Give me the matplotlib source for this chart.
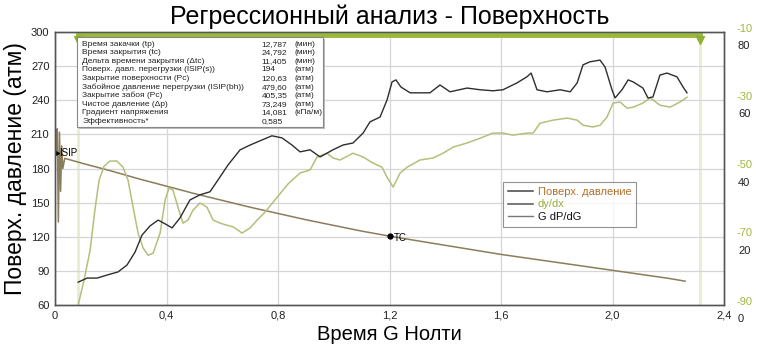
import matplotlib.pyplot as plt
import matplotlib.transforms as mtransforms
from matplotlib.ticker import FuncFormatter
from matplotlib.patches import Rectangle

plt.rcParams['font.family'] = ['Liberation Sans', 'DejaVu Sans']
plt.rcParams['axes.unicode_minus'] = False

# surface pressure (atm) vs G-time
g_press = [0.0, 0.005, 0.008, 0.012, 0.016, 0.020, 0.024, 0.028, 0.035, 0.1, 0.2, 0.3, 0.4, 0.5,
           0.6, 0.7, 0.8, 0.9, 1.0, 1.1, 1.2, 1.3, 1.4, 1.5, 1.6, 1.7, 1.8, 1.9, 2.0, 2.1, 2.2, 2.26]
p_surf = [195, 193.6, 215, 133, 212, 160, 200, 180, 189, 184.5, 178, 171, 164.5, 158,
          152, 146, 140.5, 135, 130, 125, 120.6, 116.5, 112.5, 108.5, 104.5, 101, 97.5, 94, 90.5, 87, 83.5, 81]

# G dP/dG (black right axis)
g_gdp = [0.083, 0.115, 0.151, 0.187, 0.226, 0.258, 0.287, 0.312, 0.341, 0.370, 0.395, 0.420, 0.448,
         0.484, 0.520, 0.556, 0.585, 0.621, 0.664, 0.700, 0.743, 0.778, 0.814, 0.850, 0.879, 0.915,
         0.951, 0.997, 1.033, 1.069, 1.105, 1.130, 1.166, 1.191, 1.209, 1.223, 1.241, 1.274, 1.309,
         1.345, 1.381, 1.417, 1.478, 1.525, 1.571, 1.607, 1.657, 1.693, 1.708, 1.729, 1.765, 1.812,
         1.848, 1.873, 1.894, 1.919, 1.955, 1.973, 1.998, 2.009, 2.034, 2.056, 2.074, 2.109, 2.127,
         2.145, 2.170, 2.195, 2.231, 2.253, 2.267]
gdp = [6.7, 7.9, 7.9, 8.8, 9.7, 11.7, 15.5, 20.5, 23.2, 24.9, 23.8, 22.6, 25.5,
       30.8, 32.3, 33.2, 36.7, 41.1, 45.5, 46.9, 48.4, 49.6, 49.0, 46.9, 44.9, 45.5,
       43.4, 45.5, 46.9, 47.5, 50.4, 53.7, 55.1, 60.1, 65.4, 66.0, 63.9, 62.2, 62.2,
       62.2, 64.5, 62.5, 63.6, 63.1, 62.8, 63.1, 65.1, 66.9, 68.0, 63.1, 62.5, 63.1,
       62.5, 65.1, 70.4, 71.3, 71.8, 69.8, 63.1, 60.7, 63.1, 66.0, 65.4, 63.6, 60.7,
       61.0, 67.4, 68.0, 66.9, 63.9, 62.2]

# dy/dx (green right axis)
g_dydx = [0.083, 0.104, 0.126, 0.143, 0.158, 0.176, 0.197, 0.222, 0.244, 0.262, 0.280, 0.298, 0.316,
          0.334, 0.352, 0.377, 0.395, 0.409, 0.423, 0.441, 0.459, 0.477, 0.495, 0.520, 0.545, 0.567,
          0.592, 0.617, 0.639, 0.671, 0.700, 0.725, 0.753, 0.789, 0.836, 0.879, 0.915, 0.940, 0.976,
          0.997, 1.022, 1.069, 1.105, 1.141, 1.173, 1.191, 1.213, 1.238, 1.263, 1.309, 1.356, 1.392,
          1.428, 1.478, 1.525, 1.571, 1.607, 1.643, 1.693, 1.715, 1.740, 1.787, 1.837, 1.873, 1.894,
          1.930, 1.955, 1.980, 2.002, 2.027, 2.052, 2.074, 2.109, 2.135, 2.170, 2.206, 2.242, 2.267]
dydx = [-90, -82.7, -73.9, -62.2, -53.4, -49.3, -47.8, -47.8, -49.6, -53.4, -61.3, -68.9, -73.3,
        -75.4, -74.8, -68.9, -59.2, -55.7, -56.3, -61.3, -66.0, -65.1, -62.2, -60.1, -61.3, -65.1,
        -66.0, -66.6, -67.1, -68.9, -67.4, -65.1, -62.8, -59.2, -54.5, -51.3, -50.4, -46.6, -45.5,
        -46.9, -47.5, -45.5, -46.6, -48.4, -49.6, -52.5, -55.4, -51.3, -49.6, -47.5, -46.9, -45.5,
        -43.7, -42.5, -41.1, -39.6, -39.6, -40.2, -39.6, -39.6, -36.7, -35.8, -35.2, -35.8, -37.3,
        -37.8, -37.3, -34.9, -30.8, -30.5, -32.3, -32.0, -30.8, -29.3, -31.4, -32.0, -30.5, -29.1]

isip_g, isip_p = 0.005, 193.6
tc_g, tc_p = 1.2, 120.63
window_g = [0.083, 2.314]

info_names = ['Время закачки (tp)', 'Время закрытия (tc)', 'Дельта времени закрытия (Δtc)',
              'Поверх. давл. перегрузки (ISIP(s))', 'Закрытие поверхности (Pc)',
              'Забойное давление перегрузки (ISIP(bh))', 'Закрытие забоя (Pc)',
              'Чистое давление (Δp)', 'Градиент напряжения', 'Эффективность*']
info_values = ['12,787', '24,792', '11,405', '194', '120,63', '479,60', '405,35', '73,249', '14,081', '0,585']
info_units = ['(мин)', '(мин)', '(мин)', '(атм)', '(атм)', '(атм)', '(атм)', '(атм)', '(кПа/м)', '']

c_press = '#8a7d5a'
c_gdp = '#2e2e2e'
c_dydx = '#b3c07a'
c_green = '#a4b83c'

fig = plt.figure(figsize=(7.62, 3.49), dpi=100)
ax = fig.add_axes([0.0722, 0.126, 0.878, 0.782])
ax_g = ax.twinx()
ax_k = ax.twinx()

ax.set_xlim(0, 2.4)
ax.set_ylim(60, 300)
ax.set_xticks([0, 0.4, 0.8, 1.2, 1.6, 2.0, 2.4])
ax.set_yticks(range(60, 301, 30))
ax.xaxis.set_major_formatter(FuncFormatter(lambda v, p: '0' if v == 0 else ('%.1f' % v).replace('.', ',')))
ax.grid(True, color='#d6d6d6', linewidth=0.9)
ax.tick_params(length=0, labelsize=8, colors='#222222', pad=4)

# closure window
for g in window_g:
    ax.axvline(g, color='#e6eed2', linewidth=2, zorder=1)
trans = ax.get_xaxis_transform()
ax.plot(window_g, [0.99, 0.99], color='#9ab83a', linewidth=3.5, transform=trans, clip_on=False, zorder=5)
ax.plot(window_g, [0.972, 0.972], 'v', color='#8fb030', markersize=6, transform=trans, zorder=5)

l1, = ax.plot(g_press, p_surf, color=c_press, linewidth=1.1, label='Поверх. давление')
ax.plot([isip_g], [isip_p], '>', color='black', markersize=4)
ax.text(isip_g + 0.008, isip_p, 'ISIP', fontsize=7, va='center', ha='left')
ax.plot([tc_g], [tc_p], 'o', color='black', markersize=3.5)
ax.text(tc_g + 0.015, tc_p - 2, 'TC', fontsize=7, va='center', ha='left')

ax.set_xlabel('Время G Нолти', fontsize=14.5, labelpad=3)
ax.set_ylabel('Поверх. давление (атм)', fontsize=16.5, labelpad=3)
ax.set_title('Регрессионный анализ - Поверхность', fontsize=18, pad=6)

# green axis
ax_g.set_ylim(-90, -10)
ax_g.set_yticks([-90, -70, -50, -30, -10])
ax_g.tick_params(length=0, labelsize=8, labelcolor=c_green, pad=9)
l2, = ax_g.plot(g_dydx, dydx, color=c_dydx, linewidth=1.1, label='dy/dx')

# black axis
ax_k.set_ylim(0, 80)
ax_k.set_yticks([0, 20, 40, 60, 80])
ax_k.tick_params(length=0, labelsize=8, labelcolor='#222222', pad=10)
l3, = ax_k.plot(g_gdp, gdp, color=c_gdp, linewidth=1.0, label='G dP/dG')

off_up = mtransforms.ScaledTranslation(0, 0.045, fig.dpi_scale_trans)
off_dn = mtransforms.ScaledTranslation(0, -0.13, fig.dpi_scale_trans)
for t in ax_g.yaxis.get_major_ticks():
    t.label2.set_transform(t.label2.get_transform() + off_up)
for t in ax_k.yaxis.get_major_ticks():
    t.label2.set_transform(t.label2.get_transform() + off_dn)

for a in (ax, ax_g, ax_k):
    for s in a.spines.values():
        s.set_color('#555555')
        s.set_linewidth(0.9)

leg = ax_k.legend(handles=[l1, l2, l3], loc='upper left', bbox_to_anchor=(0.67, 0.45),
                  borderaxespad=0, fontsize=8, frameon=True, fancybox=False, handlelength=2.3,
                  labelspacing=0.25, borderpad=0.4, handletextpad=0.4)
leg.get_frame().set_edgecolor('#777777')
leg.get_frame().set_linewidth(0.8)
for txt, col in zip(leg.get_texts(), ['#b0702a', '#9aae3a', '#111111']):
    txt.set_color(col)
for h, col in zip(leg.legend_handles, ['#444444', '#555555', '#777777']):
    h.set_color(col)

# info box
ax_k.add_patch(Rectangle((0.036, 0.645), 0.367, 0.33, transform=ax_k.transAxes,
                         facecolor='#bdbdbd', edgecolor='none', zorder=9))
ax_k.add_patch(Rectangle((0.033, 0.652), 0.367, 0.33, transform=ax_k.transAxes,
                         facecolor='white', edgecolor='#888888', linewidth=0.8, zorder=10))
for i in range(len(info_names)):
    y = 0.956 - i * 0.0315
    ax_k.text(0.041, y, info_names[i], fontsize=6, color='#222222', transform=ax_k.transAxes, va='center', zorder=11)
    ax_k.text(0.309, y, info_values[i], fontsize=6, color='#222222', transform=ax_k.transAxes, va='center', zorder=11)
    ax_k.text(0.358, y, info_units[i], fontsize=6, color='#222222', transform=ax_k.transAxes, va='center', zorder=11)

plt.savefig('out.png', dpi=100)
